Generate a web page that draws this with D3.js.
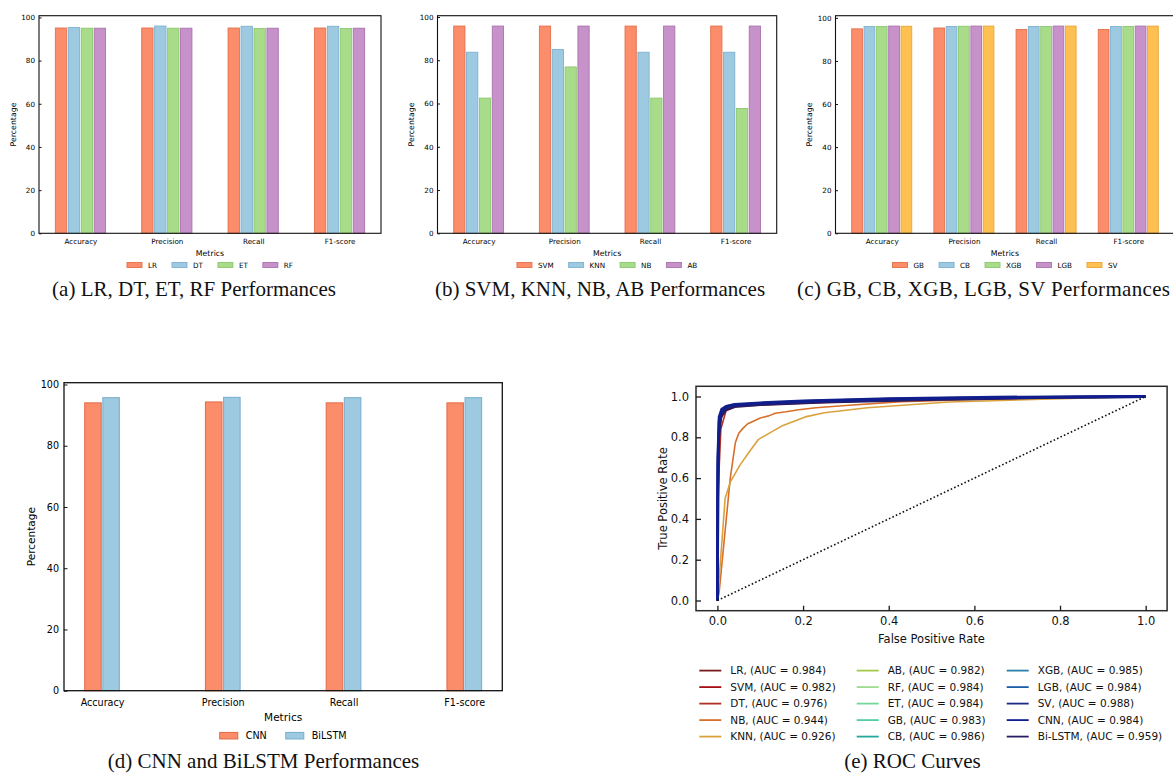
<!DOCTYPE html>
<html><head><meta charset="utf-8">
<script src="https://cdn.jsdelivr.net/npm/d3@7"></script>
<style>body{margin:0;background:#fff} svg{display:block}</style>
</head><body>
<svg id="c" width="1173" height="773"></svg>
<script>
// ---------- DATA ----------
const metrics = ["Accuracy", "Precision", "Recall", "F1-score"];
const yTicksBar = [0, 20, 40, 60, 80, 100];

// (a)
const lrScores  = [95.1, 95.1, 95.1, 95.1];
const dtScores  = [95.3, 96.0, 95.9, 95.9];
const etScores  = [95.0, 95.0, 94.9, 94.9];
const rfScores  = [95.0, 95.0, 95.0, 95.0];
// (b)
const svmScores = [95.8, 95.8, 95.8, 95.8];
const knnScores = [83.7, 85.0, 83.7, 83.7];
const nbScores  = [62.5, 76.9, 62.5, 57.7];
const abScores  = [95.8, 95.8, 95.8, 95.8];
// (c)
const gbScores  = [94.9, 95.3, 94.6, 94.6];
const cbScores  = [96.0, 96.0, 96.0, 96.0];
const xgbScores = [96.0, 96.1, 96.0, 96.0];
const lgbScores = [96.2, 96.2, 96.2, 96.2];
const svScores  = [96.1, 96.2, 96.2, 96.2];
// (d)
const cnnScores    = [94.0, 94.3, 94.0, 94.0];
const bilstmScores = [95.7, 95.8, 95.7, 95.7];

// (e) ROC curves [fpr, tpr]
const rocLR  = [[0,0],[0.001,0.6],[0.004,0.85],[0.01,0.92],[0.02,0.945],[0.04,0.956],[0.1,0.964],[0.2,0.973],[0.4,0.985],[0.6,0.992],[0.8,0.997],[1,1]];
const rocSVM = [[0,0],[0.002,0.62],[0.006,0.86],[0.012,0.92],[0.025,0.946],[0.05,0.956],[0.12,0.964],[0.25,0.975],[0.45,0.986],[0.7,0.994],[1,1]];
const rocDT  = [[0,0],[0.002,0.55],[0.008,0.84],[0.02,0.93],[0.045,0.952],[0.15,0.963],[0.35,0.978],[0.6,0.99],[1,1]];
const rocNB  = [[0,0],[0.004,0.04],[0.03,0.6],[0.042,0.775],[0.05,0.82],[0.06,0.845],[0.07,0.865],[0.085,0.88],[0.1,0.895],[0.12,0.905],[0.135,0.918],[0.16,0.925],[0.19,0.935],[0.23,0.945],[0.3,0.956],[0.43,0.975],[0.6,0.985],[0.75,0.99],[1,1]];
const rocKNN = [[0,0],[0.002,0.05],[0.018,0.5],[0.03,0.58],[0.053,0.665],[0.075,0.73],[0.096,0.79],[0.15,0.855],[0.205,0.9],[0.25,0.92],[0.35,0.945],[0.54,0.973],[0.78,0.988],[1,1]];
const rocAB  = [[0,0],[0.001,0.58],[0.005,0.86],[0.012,0.925],[0.025,0.947],[0.06,0.958],[0.15,0.967],[0.3,0.978],[0.5,0.988],[0.75,0.995],[1,1]];
const rocRF  = [[0,0],[0.001,0.62],[0.004,0.87],[0.01,0.93],[0.02,0.948],[0.05,0.958],[0.12,0.966],[0.25,0.976],[0.5,0.989],[0.75,0.996],[1,1]];
const rocET  = [[0,0],[0.001,0.64],[0.004,0.88],[0.01,0.932],[0.022,0.949],[0.05,0.958],[0.12,0.966],[0.25,0.977],[0.5,0.989],[0.75,0.996],[1,1]];
const rocGB  = [[0,0],[0.001,0.6],[0.005,0.87],[0.012,0.93],[0.024,0.948],[0.05,0.957],[0.13,0.966],[0.26,0.976],[0.5,0.988],[0.75,0.995],[1,1]];
const rocCB  = [[0,0],[0.001,0.66],[0.004,0.89],[0.01,0.935],[0.02,0.95],[0.045,0.96],[0.1,0.968],[0.22,0.978],[0.45,0.99],[0.7,0.996],[1,1]];
const rocXGB = [[0,0],[0.001,0.65],[0.004,0.89],[0.01,0.934],[0.02,0.95],[0.045,0.96],[0.1,0.968],[0.22,0.978],[0.45,0.99],[0.7,0.996],[1,1]];
const rocLGB = [[0,0],[0.001,0.64],[0.004,0.88],[0.01,0.933],[0.021,0.949],[0.048,0.959],[0.11,0.967],[0.24,0.977],[0.48,0.989],[0.72,0.996],[1,1]];
const rocSV  = [[0,0],[0.001,0.7],[0.004,0.9],[0.01,0.938],[0.02,0.952],[0.04,0.961],[0.1,0.969],[0.2,0.979],[0.4,0.99],[0.65,0.997],[1,1]];
const rocCNN = [[0,0],[0.001,0.65],[0.004,0.88],[0.01,0.93],[0.022,0.95],[0.037,0.958],[0.1,0.966],[0.2,0.976],[0.4,0.987],[0.6,0.993],[0.8,0.997],[1,1]];
const rocBiLSTM = [[0,0],[0.001,0.5],[0.003,0.8],[0.008,0.9],[0.02,0.935],[0.04,0.95],[0.1,0.96],[0.25,0.972],[0.5,0.985],[0.75,0.994],[1,1]];

const rocNames = ["LR","SVM","DT","NB","KNN","AB","RF","ET","GB","CB","XGB","LGB","SV","CNN","Bi-LSTM"];
const rocAUC   = [0.984,0.982,0.976,0.944,0.926,0.982,0.984,0.984,0.983,0.986,0.985,0.984,0.988,0.984,0.959];
const rocCurves = [rocLR,rocSVM,rocDT,rocNB,rocKNN,rocAB,rocRF,rocET,rocGB,rocCB,rocXGB,rocLGB,rocSV,rocCNN,rocBiLSTM];
const rocColors = ["#7b1c1c","#a50f15","#b03024","#d7702a","#d9a23c","#a6c84a","#9ddc8e","#73d79a","#4fcfa3","#21a99a","#2a7fa8","#1a5fa5","#1c2a86","#0f1d8f","#2a1c62"];
const rocTicks = [0, 0.2, 0.4, 0.6, 0.8, 1.0];

// ---------- STYLE ----------
const C = {
  orange: ["#fc8d6a", "#e4704d"],
  blue:   ["#9ecae1", "#7cb0d0"],
  green:  ["#a8dc8a", "#8bc86e"],
  purple: ["#c791c9", "#a873ad"],
  yellow: ["#fec050", "#e8a53a"]
};
const FONT = "DejaVu Sans";
const SERIF = "Liberation Serif";
const svg = d3.select("#c");

function barPanel(cfg) {
  const g = svg.append("g");
  const n = cfg.series.length, bw = 0.15;
  const half = n * bw / 2;
  const span = (metrics.length - 1) + 2 * half;
  const m = 0.05 * span;
  const x = d3.scaleLinear().domain([-half - m, metrics.length - 1 + half + m]).range([cfg.x0, cfg.x1]);
  const ymax = d3.max(cfg.series, s => d3.max(s.values)) * 1.05;
  const y = d3.scaleLinear().domain([0, ymax]).range([cfg.yb, cfg.yt]);
  const pw = x(bw) - x(0);
  cfg.series.forEach((s, i) => {
    const off = (i - (n - 1) / 2) * bw;
    g.append("g").selectAll("rect").data(s.values).join("rect")
      .attr("x", (d, j) => x(j + off) - pw / 2 + 0.8)
      .attr("width", pw - 1.6)
      .attr("y", d => y(d))
      .attr("height", d => y(0) - y(d))
      .attr("fill", s.color[0])
      .attr("stroke", s.color[1])
      .attr("stroke-width", cfg.edge);
  });
  g.append("rect").attr("x", cfg.x0).attr("y", cfg.yt)
    .attr("width", cfg.x1 - cfg.x0).attr("height", cfg.yb - cfg.yt)
    .attr("fill", "none").attr("stroke", "#111").attr("stroke-width", cfg.frame);
  const ya = g.append("g").attr("transform", `translate(${cfg.x0},0)`)
    .call(d3.axisLeft(y).tickValues(yTicksBar).tickSizeInner(-cfg.tick).tickSizeOuter(0).tickPadding(cfg.ypad));
  ya.select(".domain").remove();
  ya.selectAll("line").attr("stroke", "#111");
  ya.selectAll("text").attr("font-family", FONT).attr("font-size", cfg.tf).attr("fill", "#000");
  const xa = g.append("g").attr("transform", `translate(0,${cfg.yb})`)
    .call(d3.axisBottom(x).tickValues(d3.range(metrics.length)).tickFormat(i => metrics[i]).tickSize(0).tickPadding(cfg.xpad));
  xa.select(".domain").remove();
  xa.selectAll("text").attr("font-family", FONT).attr("font-size", cfg.tf).attr("fill", "#000");
  g.append("text").attr("x", (cfg.x0 + cfg.x1) / 2).attr("y", cfg.xlY)
    .attr("text-anchor", "middle").attr("font-family", FONT).attr("font-size", cfg.lf).attr("fill", "#000").text("Metrics");
  g.append("text").attr("transform", `translate(${cfg.ylX},${(cfg.yt + cfg.yb) / 2}) rotate(-90)`)
    .attr("text-anchor", "middle").attr("dy", "0.35em").attr("font-family", FONT).attr("font-size", cfg.lf).attr("fill", "#000").text("Percentage");
  // legend
  const lg = g.append("g");
  let cur = 0;
  cfg.series.forEach(s => {
    const it = lg.append("g");
    it.append("rect").attr("x", 0).attr("y", -cfg.sh / 2).attr("width", cfg.sw).attr("height", cfg.sh)
      .attr("fill", s.color[0]).attr("stroke", s.color[1]).attr("stroke-width", cfg.edge);
    const t = it.append("text").attr("x", cfg.sw + cfg.tg).attr("dy", "0.35em")
      .attr("font-family", FONT).attr("font-size", cfg.tf).attr("fill", "#000").text(s.name);
    const w = cfg.sw + cfg.tg + t.node().getComputedTextLength();
    it.attr("transform", `translate(${cur},0)`);
    cur += w + cfg.cs;
  });
  const total = cur - cfg.cs;
  lg.attr("transform", `translate(${(cfg.x0 + cfg.x1) / 2 - total / 2},${cfg.legY})`);
  // caption
  const cap = svg.append("text").attr("x", cfg.capX).attr("y", cfg.capY)
    .attr("text-anchor", cfg.capAnchor || "middle").attr("font-family", SERIF).attr("font-size", 21).attr("fill", "#111").text(cfg.caption);
  if (cfg.capLen) cap.attr("textLength", cfg.capLen).attr("lengthAdjust", "spacing");
}

const small = { yt: 15.7, yb: 233.3, tf: 7.2, lf: 7.8, tick: 2.5, ypad: 4, xpad: 6, xlY: 255.5, legY: 265, sw: 15, sh: 5, tg: 6, cs: 15, edge: 0.9, frame: 1.1, capY: 296 };

barPanel(Object.assign({}, small, {
  x0: 39, x1: 381, ylX: 13.5,
  series: [{name:"LR", values: lrScores, color: C.orange},{name:"DT", values: dtScores, color: C.blue},{name:"ET", values: etScores, color: C.green},{name:"RF", values: rfScores, color: C.purple}],
  caption: "(a) LR, DT, ET, RF Performances", capX: 194
}));
barPanel(Object.assign({}, small, {
  x0: 437.5, x1: 776.7, ylX: 411.7,
  series: [{name:"SVM", values: svmScores, color: C.orange},{name:"KNN", values: knnScores, color: C.blue},{name:"NB", values: nbScores, color: C.green},{name:"AB", values: abScores, color: C.purple}],
  caption: "(b) SVM, KNN, NB, AB Performances", capX: 600
}));
barPanel(Object.assign({}, small, {
  x0: 835.5, x1: 1174.5, ylX: 809.3,
  series: [{name:"GB", values: gbScores, color: C.orange},{name:"CB", values: cbScores, color: C.blue},{name:"XGB", values: xgbScores, color: C.green},{name:"LGB", values: lgbScores, color: C.purple},{name:"SV", values: svScores, color: C.yellow}],
  caption: "(c) GB, CB, XGB, LGB, SV Performances", capX: 797, capAnchor: "start", capLen: 373
}));
barPanel({
  x0: 64, x1: 502.3, yt: 382.7, yb: 690.7, tf: 9.6, lf: 10.5, tick: 3.5, ypad: 5, xpad: 8.3, xlY: 720.5, ylX: 31.7,
  legY: 735.7, sw: 18, sh: 6.5, tg: 8, cs: 19, edge: 1.1, frame: 1.3,
  series: [{name:"CNN", values: cnnScores, color: C.orange},{name:"BiLSTM", values: bilstmScores, color: C.blue}],
  caption: "(d) CNN and BiLSTM Performances", capX: 263.5, capY: 768
});

// ---------- ROC ----------
(function() {
  const g = svg.append("g");
  const x = d3.scaleLinear().domain([-0.05, 1.05]).range([696, 1167.1]);
  const y = d3.scaleLinear().domain([-0.05, 1.05]).range([610.7, 386.3]);
  const line = d3.line().x(d => x(d[0])).y(d => y(d[1]));
  const order = [0,1,2,3,4,5,6,7,8,9,10,11,14,12,13];
  order.forEach(i => {
    g.append("path").attr("d", line(rocCurves[i])).attr("fill", "none")
      .attr("stroke", rocColors[i])
      .attr("stroke-width", i >= 12 ? 2.8 : 1.6)
      .attr("stroke-linejoin", "round");
  });
  g.append("path").attr("d", line([[0,0],[1,1]])).attr("fill", "none")
    .attr("stroke", "#111").attr("stroke-width", 1.6).attr("stroke-dasharray", "1.6,2.2");
  g.append("rect").attr("x", 696).attr("y", 386.3).attr("width", 1167.1 - 696).attr("height", 610.7 - 386.3)
    .attr("fill", "none").attr("stroke", "#2a2a2a").attr("stroke-width", 1.5);
  const xa = g.append("g").attr("transform", "translate(0,610.7)")
    .call(d3.axisBottom(x).tickValues(rocTicks).tickFormat(d3.format(".1f")).tickSizeInner(-5).tickSizeOuter(0).tickPadding(6));
  const ya = g.append("g").attr("transform", "translate(696,0)")
    .call(d3.axisLeft(y).tickValues(rocTicks).tickFormat(d3.format(".1f")).tickSizeInner(-5).tickSizeOuter(0).tickPadding(7));
  [xa, ya].forEach(a => {
    a.select(".domain").remove();
    a.selectAll("line").attr("stroke", "#1a1a1a").attr("stroke-width", 1.3);
    a.selectAll("text").attr("font-family", FONT).attr("font-size", 11.5).attr("fill", "#111");
  });
  g.append("text").attr("x", 931.5).attr("y", 643).attr("text-anchor", "middle")
    .attr("font-family", FONT).attr("font-size", 11.5).attr("fill", "#111").text("False Positive Rate");
  g.append("text").attr("transform", "translate(663,498.5) rotate(-90)").attr("text-anchor", "middle").attr("dy", "0.35em")
    .attr("font-family", FONT).attr("font-size", 11.5).attr("fill", "#111").text("True Positive Rate");
  // legend
  const colX = [699.3, 856.7, 1006.7];
  rocNames.forEach((nm, i) => {
    const c = Math.floor(i / 5), r = i % 5;
    const yy = 670.6 + r * 16.5;
    g.append("line").attr("x1", colX[c]).attr("x2", colX[c] + 22).attr("y1", yy).attr("y2", yy)
      .attr("stroke", rocColors[i]).attr("stroke-width", 1.8);
    g.append("text").attr("x", colX[c] + 31).attr("y", yy).attr("dy", "0.35em")
      .attr("font-family", FONT).attr("font-size", 10.5).attr("fill", "#111")
      .text(`${nm}, (AUC = ${rocAUC[i].toFixed(3)})`);
  });
  svg.append("text").attr("x", 912.5).attr("y", 768).attr("text-anchor", "middle")
    .attr("font-family", SERIF).attr("font-size", 21).attr("fill", "#111").text("(e) ROC Curves");
})();
</script></body></html>
